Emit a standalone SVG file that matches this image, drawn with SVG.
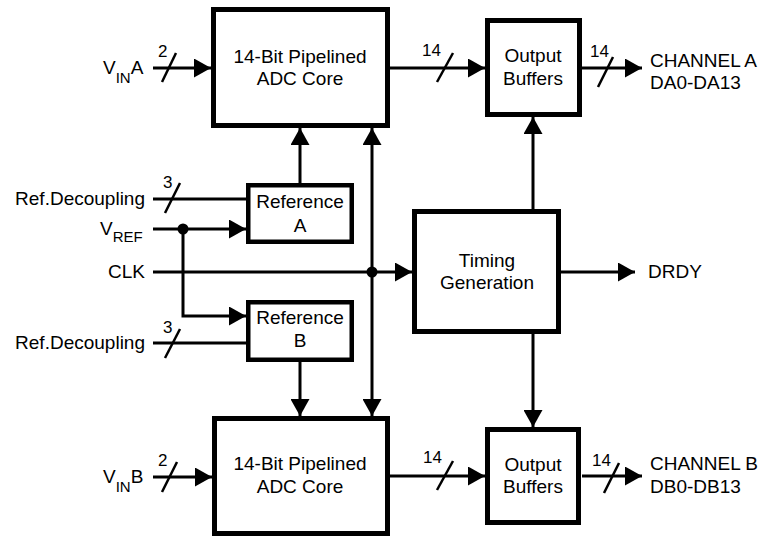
<svg xmlns="http://www.w3.org/2000/svg" width="766" height="537" viewBox="0 0 766 537">
<defs>
<marker id="ah" markerUnits="userSpaceOnUse" markerWidth="18" markerHeight="19" viewBox="0 0 18 19" refX="17" refY="9.5" orient="auto">
<path d="M0,0 L17,9.5 L0,19 Z" fill="#000"/>
</marker>
</defs>
<style>
.box{fill:#fff;stroke:#000;stroke-width:5}
.rbox{fill:#fff;stroke:#000;stroke-width:4.5}
.w{fill:none;stroke:#000;stroke-width:3}
.s{fill:none;stroke:#000;stroke-width:2.5}
.a{marker-end:url(#ah)}
text{font-family:"Liberation Sans",Arial,sans-serif;font-size:19px;fill:#000}
.c{text-anchor:middle}
.r{text-anchor:end}
.sm{font-size:17px}
.sub{font-size:15px}
</style>
<g id="connectors">
<line class="w a" x1="153" y1="68" x2="211" y2="68"/>
<line class="s" x1="162" y1="82" x2="176" y2="53"/>
<text class="sm" x="158" y="57">2</text>
<line class="w a" x1="153" y1="477" x2="212" y2="477"/>
<line class="s" x1="162" y1="492" x2="177" y2="462"/>
<text class="sm" x="158" y="466">2</text>
<line class="w a" x1="390" y1="68" x2="485" y2="68"/>
<line class="s" x1="437" y1="82" x2="453" y2="53"/>
<text class="sm" x="422" y="56">14</text>
<line class="w a" x1="390" y1="476" x2="485" y2="476"/>
<line class="s" x1="437" y1="490" x2="453" y2="461"/>
<text class="sm" x="423" y="463">14</text>
<line class="w a" x1="582" y1="68" x2="642" y2="68"/>
<line class="s" x1="598" y1="87" x2="613" y2="57"/>
<text class="sm" x="590" y="57">14</text>
<line class="w a" x1="582" y1="476" x2="642" y2="476"/>
<line class="s" x1="604" y1="493" x2="619" y2="463"/>
<text class="sm" x="592" y="466">14</text>
<line class="w" x1="153" y1="199" x2="246" y2="199"/>
<line class="s" x1="165" y1="213" x2="180" y2="183"/>
<text class="sm" x="163" y="188">3</text>
<line class="w" x1="153" y1="343" x2="246" y2="343"/>
<line class="s" x1="165" y1="358" x2="180" y2="329"/>
<text class="sm" x="163" y="333">3</text>
<line class="w a" x1="153" y1="229" x2="246" y2="229"/>
<polyline class="w a" points="183,229 183,316 246,316"/>
<circle cx="183" cy="229" r="5.5" fill="#000"/>
<line class="w a" x1="153" y1="272" x2="412" y2="272"/>
<circle cx="372" cy="272" r="5.5" fill="#000"/>
<line class="w a" x1="372" y1="272" x2="372" y2="128"/>
<line class="w a" x1="372" y1="272" x2="372" y2="416"/>
<line class="w a" x1="300" y1="183" x2="300" y2="128"/>
<line class="w a" x1="300" y1="362" x2="300" y2="416"/>
<line class="w a" x1="533" y1="209" x2="533" y2="117"/>
<line class="w a" x1="533" y1="334" x2="533" y2="427"/>
<line class="w a" x1="561" y1="272" x2="635" y2="272"/>
</g>
<g id="adcA">
<rect class="box" x="213.5" y="9.5" width="174" height="116"/>
<text class="c" x="300" y="63">14-Bit Pipelined</text>
<text class="c" x="300" y="85">ADC Core</text>
</g>
<g id="adcB">
<rect class="box" x="214.5" y="418.5" width="173" height="115"/>
<text class="c" x="300" y="470">14-Bit Pipelined</text>
<text class="c" x="300" y="493">ADC Core</text>
</g>
<g id="bufA">
<rect class="box" x="487.5" y="20.5" width="92" height="94"/>
<text class="c" x="533" y="62">Output</text>
<text class="c" x="533" y="85">Buffers</text>
</g>
<g id="bufB">
<rect class="box" x="487.5" y="429.5" width="91" height="93"/>
<text class="c" x="533" y="471">Output</text>
<text class="c" x="533" y="493">Buffers</text>
</g>
<g id="timing">
<rect class="box" x="414.5" y="211.5" width="144" height="120"/>
<text class="c" x="487" y="267">Timing</text>
<text class="c" x="487" y="289">Generation</text>
</g>
<g id="refA">
<rect class="rbox" x="248.25" y="185.25" width="103.5" height="56.5"/>
<text class="c" x="300" y="208">Reference</text>
<text class="c" x="300" y="232">A</text>
</g>
<g id="refB">
<rect class="rbox" x="248.25" y="302.25" width="103.5" height="57.5"/>
<text class="c" x="300" y="324">Reference</text>
<text class="c" x="300" y="347">B</text>
</g>
<g id="labels">
<text x="103" y="74">V<tspan class="sub" dy="9">IN</tspan><tspan dy="-9">A</tspan></text>
<text x="103" y="483">V<tspan class="sub" dy="9">IN</tspan><tspan dy="-9">B</tspan></text>
<text class="r" x="145" y="205">Ref.Decoupling</text>
<text class="r" x="145" y="349">Ref.Decoupling</text>
<text x="100" y="235">V<tspan class="sub" dy="7">REF</tspan></text>
<text class="r" x="145" y="278">CLK</text>
<text x="648" y="278">DRDY</text>
<text x="650" y="67">CHANNEL A</text>
<text x="650" y="89">DA0-DA13</text>
<text x="650" y="470">CHANNEL B</text>
<text x="650" y="493">DB0-DB13</text>
</g>
</svg>
